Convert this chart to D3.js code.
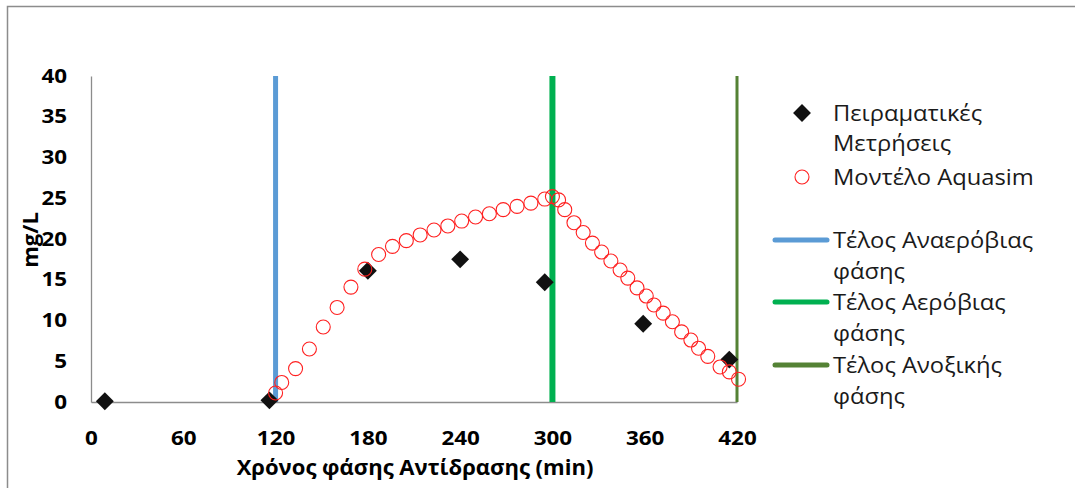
<!DOCTYPE html>
<html>
<head>
<meta charset="utf-8">
<script src="https://cdn.jsdelivr.net/npm/d3@7"></script>
<style>
  html, body { margin: 0; padding: 0; background: #fff; }
  svg { display: block; }
  text { font-family: "Open Sans", "Noto Sans", sans-serif; }
</style>
</head>
<body>
<svg id="chart" width="1075" height="488"></svg>
<script>
// ---- data ----
const xTicks = [0, 60, 120, 180, 240, 300, 360, 420];
const yTicks = [0, 5, 10, 15, 20, 25, 30, 35, 40];

const expTime = [9, 116, 180, 240, 295, 359, 415];
const expValue = [0.1, 0.2, 16.1, 17.5, 14.7, 9.6, 5.2];

const modelTime = [120, 124, 133, 142, 151, 160, 169, 178, 187, 196, 205, 214, 223, 232, 241, 250, 259, 268, 277, 286, 295, 300, 304, 308, 314, 320, 326, 332, 338, 344, 349, 355, 361, 366, 372, 378, 384, 390, 395, 401, 409, 415, 421];
const modelValue = [1.1, 2.4, 4.1, 6.5, 9.2, 11.6, 14.1, 16.3, 18.1, 19.1, 19.8, 20.5, 21.1, 21.6, 22.2, 22.7, 23.1, 23.6, 24.0, 24.4, 24.9, 25.2, 24.8, 23.6, 22.0, 20.8, 19.5, 18.4, 17.3, 16.2, 15.2, 14.0, 13.0, 11.9, 10.9, 9.85, 8.6, 7.6, 6.6, 5.6, 4.3, 3.7, 2.8];

const phaseTime = [120, 300, 420];
const phaseNames = [["Τέλος Αναερόβιας", "φάσης"], ["Τέλος Αερόβιας", "φάσης"], ["Τέλος Ανοξικής", "φάσης"]];
const phaseColors = ["#5B9BD5", "#00B050", "#548235"];
const phaseWidths = [5, 6, 3];

const expLabel = ["Πειραματικές", "Μετρήσεις"];
const modelLabel = "Μοντέλο Aquasim";
const xTitle = "Χρόνος φάσης Αντίδρασης (min)";
const yTitle = "mg/L";

// ---- drawing ----
const svg = d3.select("#chart");
const x = d3.scaleLinear().domain([0, 420]).range([91, 737]);
const y = d3.scaleLinear().domain([0, 40]).range([402, 76]);

// outer border
svg.append("rect").attr("x", 7.5).attr("y", 6.5).attr("width", 1100).attr("height", 600)
  .attr("fill", "none").attr("stroke", "#8c8c8c").attr("stroke-width", 1.5);

const axisColor = "#8c8c8c";
const tickFont = 19;
const tickStretch = 1.18;

function stretch(sel, s) {
  sel.each(function () {
    const t = d3.select(this);
    const tx = +t.attr("x") || 0, ty = +t.attr("y") || 0;
    t.attr("x", 0).attr("y", 0).attr("transform", `translate(${tx},${ty}) scale(${s},1)`);
  });
}

const gx = svg.append("g").attr("transform", `translate(0,${y(0)})`)
  .call(d3.axisBottom(x).tickValues(xTicks).tickSize(0).tickPadding(29).tickFormat(d3.format("d")));
const gy = svg.append("g").attr("transform", `translate(${x(0)},0)`)
  .call(d3.axisLeft(y).tickValues(yTicks).tickSize(0).tickPadding(24).tickFormat(d3.format("d")));
[gx, gy].forEach(g => {
  g.select(".domain").attr("stroke", axisColor).attr("stroke-width", 1.3);
  g.selectAll("text").attr("font-family", '"Open Sans", sans-serif').attr("font-size", tickFont)
    .attr("font-weight", "bold").attr("fill", "#000").call(stretch, tickStretch);
});

// phase lines
svg.append("g").selectAll("line").data(phaseTime).join("line")
  .attr("x1", d => x(d)).attr("x2", d => x(d))
  .attr("y1", y(0)).attr("y2", y(40))
  .attr("stroke", (d, i) => phaseColors[i]).attr("stroke-width", (d, i) => phaseWidths[i]);

// experimental diamonds
const diamond = d3.symbol().type(d3.symbolSquare).size(160);
const expData = expTime.map((t, i) => ({ t, v: expValue[i] }));
svg.append("g").selectAll("path").data(expData).join("path")
  .attr("d", diamond)
  .attr("transform", d => `translate(${x(d.t)},${y(d.v)}) rotate(45)`)
  .attr("fill", "#111");

// model circles
const modelData = modelTime.map((t, i) => ({ t, v: modelValue[i] }));
svg.append("g").selectAll("circle").data(modelData).join("circle")
  .attr("cx", d => x(d.t)).attr("cy", d => y(d.v)).attr("r", 7)
  .attr("fill", "none").attr("stroke", "#FF2020").attr("stroke-width", 1.1);

// axis titles
svg.append("text").attr("transform", "translate(415,475) scale(1.05,1)").attr("text-anchor", "middle")
  .attr("font-size", 21).attr("font-weight", "bold").attr("fill", "#000").text(xTitle);
svg.append("text").attr("transform", "translate(38,240) rotate(-90) scale(1.05,1)").attr("text-anchor", "middle")
  .attr("font-size", 21).attr("font-weight", "bold").attr("fill", "#000").text(yTitle);

// legend
const leg = svg.append("g");
const legFont = 22;
const legStretch = 1.08;
const tx = 833;
function legText(s, yy) {
  leg.append("text").attr("transform", `translate(${tx},${yy}) scale(${legStretch},1)`).attr("dy", "0.35em")
    .attr("font-size", legFont).attr("fill", "#1a1a1a").text(s);
}
leg.append("path").attr("d", d3.symbol().type(d3.symbolSquare).size(160))
  .attr("transform", "translate(802,113) rotate(45)").attr("fill", "#111");
expLabel.forEach((s, i) => legText(s, 113 + i * 30));
leg.append("circle").attr("cx", 802).attr("cy", 177).attr("r", 7)
  .attr("fill", "none").attr("stroke", "#FF2020").attr("stroke-width", 1.1);
legText(modelLabel, 177);

const lineRows = [240, 302, 365];
phaseNames.forEach((lines, i) => {
  leg.append("line").attr("x1", 775).attr("x2", 827).attr("y1", lineRows[i]).attr("y2", lineRows[i])
    .attr("stroke", phaseColors[i]).attr("stroke-width", 5).attr("stroke-linecap", "round");
  lines.forEach((s, j) => legText(s, lineRows[i] + j * 31));
});
</script>
</body>
</html>
